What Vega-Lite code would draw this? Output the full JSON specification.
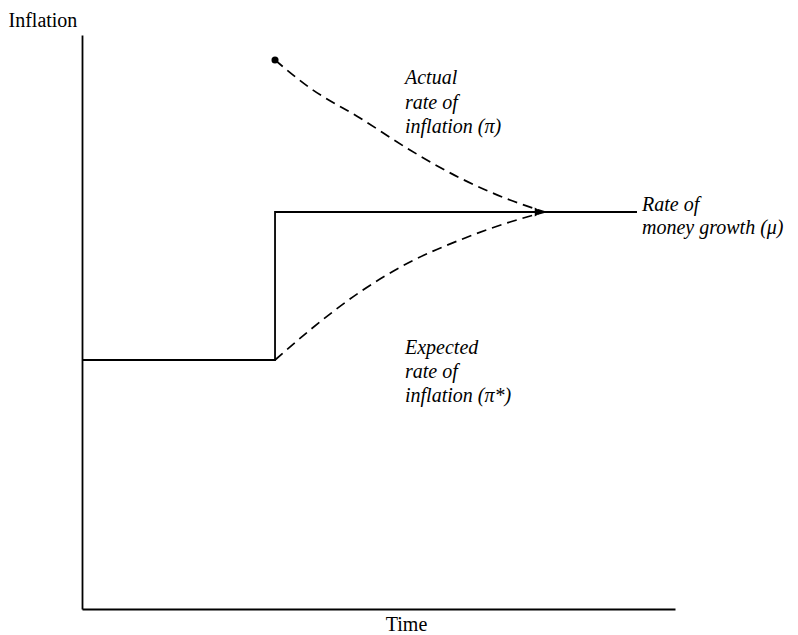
{
  "$schema": "https://vega.github.io/schema/vega-lite/v6.json",
  "width": 593,
  "height": 574,
  "autosize": {"type": "none"},
  "padding": {"left": 82, "top": 35, "right": 123, "bottom": 26},
  "background": "white",
  "config": {"view": {"stroke": null}, "font": "Liberation Serif"},
  "datasets": {
    "money": [
      {"t": 0, "v": 4.338, "o": 1},
      {"t": 3.255, "v": 4.338, "o": 2},
      {"t": 3.255, "v": 6.916, "o": 3},
      {"t": 9.359, "v": 6.916, "o": 4}
    ],
    "curves": [
      {"series": "actual", "t": 3.255, "v": 9.564},
      {"series": "actual", "t": 3.845, "v": 9.077},
      {"series": "actual", "t": 4.688, "v": 8.554},
      {"series": "actual", "t": 5.531, "v": 7.997},
      {"series": "actual", "t": 6.374, "v": 7.509},
      {"series": "actual", "t": 7.218, "v": 7.125},
      {"series": "actual", "t": 7.808, "v": 6.916},
      {"series": "expected", "t": 3.255, "v": 4.338},
      {"series": "expected", "t": 3.845, "v": 4.861},
      {"series": "expected", "t": 4.688, "v": 5.523},
      {"series": "expected", "t": 5.531, "v": 6.045},
      {"series": "expected", "t": 6.374, "v": 6.429},
      {"series": "expected", "t": 7.218, "v": 6.742},
      {"series": "expected", "t": 7.808, "v": 6.916}
    ],
    "start": [{"t": 3.255, "v": 9.564}],
    "arrow": [{"t": 7.7, "v": 6.916}],
    "labels": [
      {"t": 5.447, "v": 9.251, "text": "Actual"},
      {"t": 5.447, "v": 8.815, "text": "rate of"},
      {"t": 5.447, "v": 8.397, "text": "inflation (π)"},
      {"t": 5.447, "v": 4.547, "text": "Expected"},
      {"t": 5.447, "v": 4.129, "text": "rate of"},
      {"t": 5.447, "v": 3.711, "text": "inflation (π*)"},
      {"t": 9.444, "v": 7.038, "text": "Rate of"},
      {"t": 9.444, "v": 6.638, "text": "money growth (μ)"}
    ]
  },
  "layer": [
    {
      "data": {"name": "money"},
      "mark": {"type": "line", "color": "black", "strokeWidth": 1.8},
      "encoding": {
        "x": {
          "field": "t", "type": "quantitative",
          "scale": {"domain": [0, 10], "nice": false, "zero": false},
          "axis": {
            "title": "Time", "grid": false, "ticks": false, "labels": false,
            "domainColor": "black", "domainWidth": 1.8,
            "titleFont": "Liberation Serif", "titleFontSize": 20, "titleFontWeight": "normal",
            "titleColor": "black", "titleX": 324, "titlePadding": 5
          }
        },
        "y": {
          "field": "v", "type": "quantitative",
          "scale": {"domain": [0, 10], "nice": false, "zero": false},
          "axis": {
            "title": "Inflation", "grid": false, "ticks": false, "labels": false,
            "domainColor": "black", "domainWidth": 1.8,
            "titleFont": "Liberation Serif", "titleFontSize": 20, "titleFontWeight": "normal",
            "titleColor": "black", "titleAngle": 0, "titleAlign": "left",
            "titleBaseline": "middle", "titleX": -74, "titleY": -15
          }
        },
        "order": {"field": "o", "type": "quantitative"}
      }
    },
    {
      "data": {"name": "curves"},
      "mark": {"type": "line", "color": "black", "strokeWidth": 1.7, "strokeDash": [10, 6], "interpolate": "monotone"},
      "encoding": {
        "x": {"field": "t", "type": "quantitative"},
        "y": {"field": "v", "type": "quantitative"},
        "detail": {"field": "series"}
      }
    },
    {
      "data": {"name": "start"},
      "mark": {"type": "point", "shape": "circle", "filled": true, "color": "black", "size": 50, "opacity": 1},
      "encoding": {
        "x": {"field": "t", "type": "quantitative"},
        "y": {"field": "v", "type": "quantitative"}
      }
    },
    {
      "data": {"name": "arrow"},
      "mark": {"type": "point", "shape": "triangle-right", "filled": true, "color": "black", "size": 80, "opacity": 1},
      "encoding": {
        "x": {"field": "t", "type": "quantitative"},
        "y": {"field": "v", "type": "quantitative"}
      }
    },
    {
      "data": {"name": "labels"},
      "mark": {"type": "text", "align": "left", "baseline": "middle", "font": "Liberation Serif", "fontStyle": "italic", "fontSize": 20, "color": "black"},
      "encoding": {
        "x": {"field": "t", "type": "quantitative"},
        "y": {"field": "v", "type": "quantitative"},
        "text": {"field": "text"}
      }
    }
  ]
}
